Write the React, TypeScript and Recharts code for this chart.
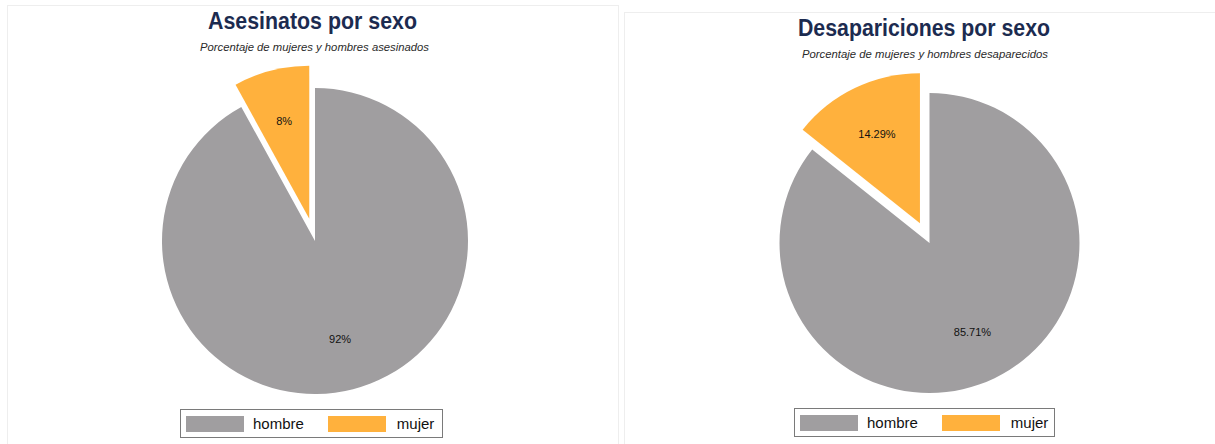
import React from 'react';
import { PieChart, Pie, Cell, Legend } from 'recharts';

// Data
const categories = ['mujer', 'hombre'];
const legendOrder = ['hombre', 'mujer'];
const asesinatosValues = [8, 92];
const desaparicionesValues = [14.29, 85.71];

const COLORS: Record<string, string> = {
  hombre: '#a09ea0',
  mujer: '#ffb13d',
};

const RADIAN = Math.PI / 180;
const FONT = '"Liberation Sans", Arial, sans-serif';

interface PanelProps {
  title: string;
  subtitle: string;
  values: number[];
  left: number;
  top: number;
  width: number;
  titleX: number;
  titleWidth: number;
  subX: number;
  subWidth: number;
  cx: number;
  cy: number;
  radius: number;
  explode: number;
  legendLeft: number;
  legendTop: number;
  legendWidth: number;
}

const makeLabel = (showIndex: number) => (props: any) => {
  if (props.index !== showIndex) return <g />;
  const r = props.outerRadius * 0.66;
  const x = props.cx + r * Math.cos(-props.midAngle * RADIAN);
  const y = props.cy + r * Math.sin(-props.midAngle * RADIAN);
  return (
    <text x={x} y={y} textAnchor="middle" dominantBaseline="central" fontSize={11} fill="#111" fontFamily={FONT}>
      {`${props.value}%`}
    </text>
  );
};

const LegendBox = ({ width }: { width: number }) => (
  <div
    style={{
      width,
      height: 29,
      boxSizing: 'border-box',
      border: '1.5px solid #7a7a7a',
      display: 'flex',
      alignItems: 'center',
      fontFamily: FONT,
      fontSize: 15,
      color: '#111',
      background: '#fff',
    }}
  >
    {legendOrder.map((name, i) => (
      <div key={name} style={{ display: 'flex', alignItems: 'center', marginLeft: i === 0 ? 5 : 24 }}>
        <span style={{ width: 58, height: 16, background: COLORS[name], display: 'inline-block' }} />
        <span style={{ marginLeft: i === 0 ? 9 : 11 }}>{name}</span>
      </div>
    ))}
  </div>
);

const SexPanel: React.FC<PanelProps> = (p) => {
  const data = categories.map((name, i) => ({ name, value: p.values[i] }));
  const total = p.values.reduce((a, b) => a + b, 0);
  // mid angle of the exploded (first) slice, starting at 12 o'clock
  const mid = 90 + (180 * p.values[0]) / total;
  const dx = p.explode * Math.cos(mid * RADIAN);
  const dy = -p.explode * Math.sin(mid * RADIAN);

  return (
    <div
      style={{
        position: 'absolute',
        left: p.left,
        top: p.top,
        width: p.width,
        height: 460,
        border: '1px solid #eeeeee',
        background: '#fff',
      }}
    >
      <svg width={p.width} height={60} style={{ position: 'absolute', left: 0, top: 0 }}>
        <text
          x={p.titleX}
          y={23}
          textAnchor="middle"
          fontSize={23}
          fontWeight={700}
          fill="#1c2b50"
          fontFamily={FONT}
          textLength={p.titleWidth}
          lengthAdjust="spacingAndGlyphs"
        >
          {p.title}
        </text>
        <text
          x={p.subX}
          y={44.5}
          textAnchor="middle"
          fontSize={11}
          fontStyle="italic"
          fill="#2a2a2a"
          fontFamily={FONT}
          textLength={p.subWidth}
          lengthAdjust="spacingAndGlyphs"
        >
          {p.subtitle}
        </text>
      </svg>
      <PieChart
        width={p.width}
        height={439}
        margin={{ top: 0, right: 0, bottom: 0, left: 0 }}
        style={{ position: 'absolute', left: 0, top: 0 }}
      >
        <Pie
          data={data}
          dataKey="value"
          nameKey="name"
          cx={p.cx}
          cy={p.cy}
          outerRadius={p.radius}
          startAngle={90}
          endAngle={450}
          stroke="none"
          label={makeLabel(1)}
          labelLine={false}
          isAnimationActive={false}
        >
          {data.map((d, i) => (
            <Cell key={`base-${i}`} fill={i === 0 ? 'none' : COLORS[d.name]} />
          ))}
        </Pie>
        <Pie
          data={data}
          dataKey="value"
          nameKey="name"
          cx={p.cx + dx}
          cy={p.cy + dy}
          outerRadius={p.radius}
          startAngle={90}
          endAngle={450}
          stroke="none"
          label={makeLabel(0)}
          labelLine={false}
          isAnimationActive={false}
        >
          {data.map((d, i) => (
            <Cell key={`exp-${i}`} fill={i === 0 ? COLORS[d.name] : 'none'} />
          ))}
        </Pie>
        <Legend
          content={() => <LegendBox width={p.legendWidth} />}
          wrapperStyle={{ position: 'absolute', left: p.legendLeft, top: p.legendTop, width: p.legendWidth, bottom: 'auto' }}
        />
      </PieChart>
    </div>
  );
}

export default function App() {
  return (
    <div style={{ position: 'absolute', left: 0, top: 0, width: 1215, height: 444, overflow: 'hidden', background: '#fff' }}>
      <SexPanel
        title="Asesinatos por sexo"
        subtitle="Porcentaje de mujeres y hombres asesinados"
        values={asesinatosValues}
        left={7}
        top={5}
        width={610}
        titleX={304.5}
        titleWidth={209}
        subX={306.5}
        subWidth={229}
        cx={307}
        cy={235}
        radius={153}
        explode={23}
        legendLeft={172}
        legendTop={403}
        legendWidth={263}
      />
      <SexPanel
        title="Desapariciones por sexo"
        subtitle="Porcentaje de mujeres y hombres desaparecidos"
        values={desaparicionesValues}
        left={624}
        top={12}
        width={600}
        titleX={299}
        titleWidth={252}
        subX={300}
        subWidth={246}
        cx={304.5}
        cy={230}
        radius={150}
        explode={22}
        legendLeft={169}
        legendTop={395}
        legendWidth={261}
      />
    </div>
  );
}
